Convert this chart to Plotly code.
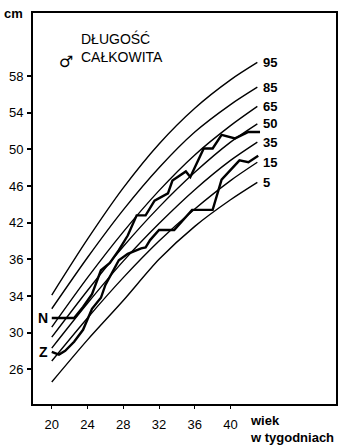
import plotly.graph_objects as go

# Gestational age (weeks) at which the percentile curves are tabulated
weeks = [20, 24, 28, 32, 36, 40, 43]

# Total length percentiles (cm)
p95 = [34.1, 40.2, 45.8, 50.6, 54.5, 57.6, 59.5]
p85 = [32.6, 38.2, 43.4, 48.0, 51.9, 54.9, 56.8]
p65 = [30.6, 36.0, 41.0, 45.5, 49.4, 52.6, 54.7]
p50 = [29.5, 34.6, 39.4, 43.7, 47.5, 50.8, 52.8]
p35 = [28.3, 33.2, 37.8, 41.9, 45.6, 48.8, 50.8]
p15 = [26.9, 31.6, 36.0, 40.0, 43.5, 46.6, 48.6]
p05 = [24.6, 29.2, 33.5, 38.0, 41.6, 44.5, 46.4]

percentiles = [("95", p95), ("85", p85), ("65", p65), ("50", p50),
               ("35", p35), ("15", p15), ("5", p05)]

# Individual growth tracks N and Z
n_weeks = [20, 22.5, 23.5, 24.5, 25.5, 26.5, 27.5, 28.5, 29.5, 30.5, 31.5,
           33, 33.5, 35, 35.5, 37, 38, 39, 40.5, 42, 43.3]
n_vals = [31.6, 31.6, 32.8, 34.2, 36.8, 37.6, 39.0, 40.6, 42.8, 42.8, 44.4,
          45.2, 46.6, 47.6, 47.0, 50.1, 50.1, 51.6, 51.2, 51.9, 51.9]

z_weeks = [20, 20.8, 21.5, 22.5, 23.5, 24.5, 25.5, 26, 27, 27.5, 28.5, 30,
           30.5, 31, 32, 33, 33.7, 35.7, 38, 39, 41, 42, 43.1]
z_vals = [27.9, 27.6, 28.0, 29.0, 30.3, 32.6, 33.8, 35.2, 37.0, 37.9, 38.6,
          39.2, 39.3, 40.1, 41.2, 41.2, 41.2, 43.4, 43.4, 46.7, 48.8, 48.6, 49.3]

x_ticks = [20, 24, 28, 32, 36, 40]
y_tickvals = [26, 30, 34, 38, 42, 46, 50, 54, 58]
y_ticktext = ["26", "30", "34", "36", "42", "46", "50", "54", "58"]

FONT = "Liberation Sans"
fig = go.Figure()

for name, vals in percentiles:
    fig.add_trace(go.Scatter(
        x=weeks, y=vals, mode="lines",
        line=dict(color="black", width=1.4, shape="spline", smoothing=0.8),
        hoverinfo="skip", showlegend=False))
    fig.add_annotation(x=weeks[-1], y=vals[-1], text="<b>%s</b>" % name,
                       showarrow=False, xanchor="left", yanchor="middle",
                       xshift=4, font=dict(family=FONT, size=13, color="black"))

for wk, vals, label in [(n_weeks, n_vals, "N"), (z_weeks, z_vals, "Z")]:
    fig.add_trace(go.Scatter(
        x=wk, y=vals, mode="lines",
        line=dict(color="black", width=2.4),
        hoverinfo="skip", showlegend=False))
    fig.add_annotation(x=wk[0], y=vals[0], text="<b>%s</b>" % label,
                       showarrow=False, xanchor="right", yanchor="middle",
                       xshift=-2, font=dict(family=FONT, size=14, color="black"))

# Title block, unit and axis caption
fig.add_annotation(xref="paper", yref="paper", x=0.079, y=0.905,
                   text="<b>♂</b>", showarrow=False,
                   font=dict(family="DejaVu Sans", size=16, color="black"))
fig.add_annotation(xref="paper", yref="paper", x=0.152, y=0.962,
                   text="DŁUGOŚĆ<br>CAŁKOWITA", showarrow=False,
                   xanchor="left", yanchor="top", align="left",
                   font=dict(family=FONT, size=14, color="black"))
fig.add_annotation(xref="paper", yref="paper", x=-0.103, y=1.0,
                   text="<b>cm</b>", showarrow=False, xanchor="left",
                   yanchor="middle",
                   font=dict(family=FONT, size=13, color="black"))
fig.add_annotation(xref="paper", yref="paper", x=0.71, y=-0.017,
                   text="<b>wiek<br>w tygodniach</b>", showarrow=False,
                   xanchor="left", yanchor="top", align="left",
                   font=dict(family=FONT, size=13, color="black"))

fig.update_xaxes(range=[17.9, 51.8], tickvals=x_ticks, ticks="outside",
                 ticklen=3, tickwidth=1.2, tickcolor="black",
                 showline=True, linecolor="black", linewidth=2, mirror=True,
                 showgrid=False, zeroline=False,
                 tickfont=dict(family=FONT, size=13, color="black"),
                 ticklabelstandoff=4)
fig.update_yaxes(range=[22.2, 64.9], tickvals=y_tickvals, ticktext=y_ticktext,
                 ticks="outside", ticklen=4, tickwidth=1.5, tickcolor="black",
                 showline=True, linecolor="black", linewidth=2, mirror=True,
                 showgrid=False, zeroline=False,
                 tickfont=dict(family=FONT, size=13, color="black"),
                 ticklabelstandoff=1)
fig.update_layout(width=340, height=447,
                  margin=dict(l=33, r=2, t=13, b=43),
                  plot_bgcolor="white", paper_bgcolor="white")

fig.write_html("out.html")
